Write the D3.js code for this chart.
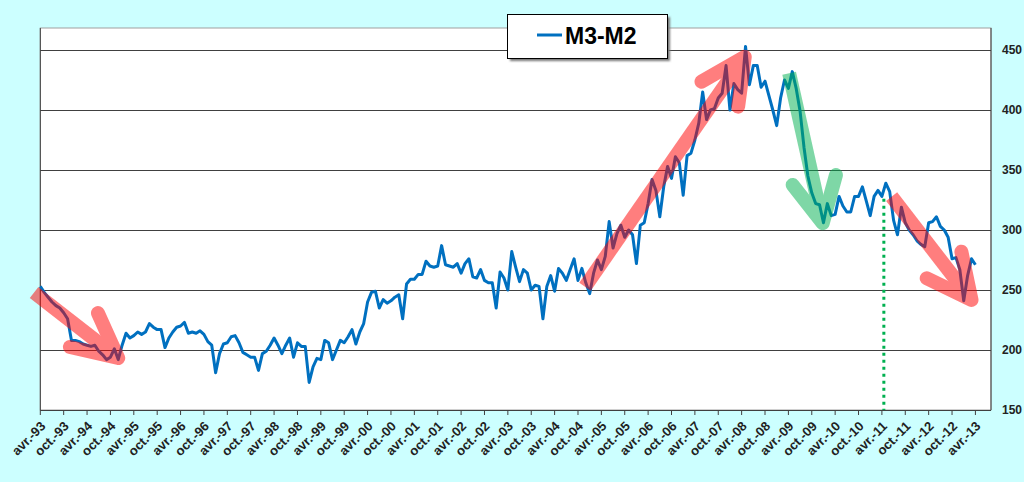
<!DOCTYPE html>
<html><head><meta charset="utf-8">
<script src="https://cdn.jsdelivr.net/npm/d3@7"></script>
<style>html,body{margin:0;padding:0;background:#CCFFFF;} svg{display:block;}</style>
</head><body>
<svg id="c" width="1024" height="482"></svg>
<script>
// ---- data ----
const seriesName = "M3-M2";
// monthly values, avr. 1993 .. avr. 2013 (index = months since avr.-93)
const values = [
253,248,244,240,237,235,231,226,208,208,
207,205,204,203,204,199,196,192,194,201,
192,204,214,210,212,215,213,215,222,219,
217,217,202,210,215,219,220,223,214,215,
214,216,213,207,204,181,197,205,206,211,
212,206,198,196,194,194,183,197,199,204,
210,204,197,204,210,194,206,203,203,173,
186,193,192,208,206,192,200,208,206,211,
217,205,215,222,240,248,249,235,242,239,
241,244,246,226,255,259,259,263,263,274,
270,269,270,287,271,270,269,272,264,272,
276,261,260,267,258,256,256,235,265,260,
250,282,269,257,267,264,250,254,253,226,
253,262,249,268,264,258,267,276,258,268,
256,247,264,275,267,278,307,285,297,304,
294,300,296,272,304,306,322,342,333,311,
336,353,343,361,356,329,362,364,375,389,
415,392,400,401,410,414,437,400,422,417,
414,453,421,437,437,419,424,412,400,387,
410,425,418,432,418,399,369,345,331,322,
321,306,322,312,313,328,320,315,315,328,
328,336,324,312,328,333,328,339,332,308,
296,319,306,300,296,291,288,286,306,307,
311,303,300,294,276,277,267,241,262,276,
271];
const tickLabels = ["avr.-93","oct.-93","avr.-94","oct.-94","avr.-95","oct.-95","avr.-96","oct.-96",
"avr.-97","oct.-97","avr.-98","oct.-98","avr.-99","oct.-99","avr.-00","oct.-00","avr.-01","oct.-01",
"avr.-02","oct.-02","avr.-03","oct.-03","avr.-04","oct.-04","avr.-05","oct.-05","avr.-06","oct.-06",
"avr.-07","oct.-07","avr.-08","oct.-08","avr.-09","oct.-09","avr.-10","oct.-10","avr.-11","oct.-11",
"avr.-12","oct.-12","avr.-13"];
const yTicks = [150,200,250,300,350,400,450];
// annotation arrows: [monthIndex, value]
const redArrows = [
  {shaft:[[-1.6,248],[20,193.3]], head:[[14.8,230.8],[20,193.3],[7.6,202.5]]},
  {shaft:[[139.8,252.8],[180.8,444.4]], head:[[169.7,423.6],[180.8,444.4],[179.1,402.8]]},
  {shaft:[[218.5,327.8],[239,241.7]], head:[[227.5,259.8],[239,241.7],[236.4,281.9]]}
];
const greenArrows = [
  {shaft:[[192.2,430.6],[200.8,305.6]], head:[[193.1,337.5],[200.8,305.6],[204.2,345.8]]}
];
const markerLine = {month:216.5, from:150, to:326};

// ---- layout ----
const L = 40.3, R = 991, T = 28, B = 410;
const svg = d3.select("#c");
const x = d3.scaleLinear().domain([0, 244]).range([L, R]);
const y = d3.scaleLinear().domain([150, 150 + (B - T) / 1.2]).range([B, T]);

svg.append("rect").attr("x",0).attr("y",0).attr("width",1024).attr("height",482).attr("fill","#CCFFFF");
svg.append("rect").attr("x",L).attr("y",T).attr("width",R-L).attr("height",B-T)
  .attr("fill","#fff").attr("stroke","#a0a0a0").attr("stroke-width",1);

// gridlines
svg.append("g").selectAll("line").data(yTicks.filter(d=>d>150)).join("line")
  .attr("x1",L).attr("x2",R).attr("y1",d=>Math.round(y(d))+0.5).attr("y2",d=>Math.round(y(d))+0.5)
  .attr("stroke","#404040").attr("stroke-width",1);

// axes lines
svg.append("line").attr("x1",L).attr("x2",L).attr("y1",T).attr("y2",B).attr("stroke","#404040");
svg.append("line").attr("x1",R).attr("x2",R).attr("y1",T).attr("y2",B).attr("stroke","#404040");
svg.append("line").attr("x1",L).attr("x2",R).attr("y1",B+0.5).attr("y2",B+0.5).attr("stroke","#404040");

// x ticks & labels
const xt = svg.append("g");
tickLabels.forEach((lab,k)=>{
  const px = x(k*6);
  xt.append("line").attr("x1",px).attr("x2",px).attr("y1",B).attr("y2",B+5).attr("stroke","#404040");
  xt.append("text").attr("transform",`translate(${px+6},${B+17}) rotate(-45)`)
    .attr("text-anchor","end").attr("font-family","Liberation Sans, Arial, sans-serif")
    .attr("font-weight","bold").attr("font-size","13px").attr("fill","#222").text(lab);
});

// y labels (right)
svg.append("g").selectAll("text").data(yTicks).join("text")
  .attr("x",1002).attr("y",d=>y(d)).attr("dy","0.35em")
  .attr("font-family","Liberation Sans, Arial, sans-serif").attr("font-weight","bold")
  .attr("font-size","12px").attr("fill","#222").text(d=>d);

// series line
const line = d3.line().x((d,i)=>x(i)).y(d=>y(d));
svg.append("path").datum(values).attr("d",line).attr("fill","none")
  .attr("stroke","#0070C0").attr("stroke-width",3).attr("stroke-linejoin","round");

// marker dotted line
svg.append("line").attr("x1",x(markerLine.month)).attr("x2",x(markerLine.month))
  .attr("y1",y(markerLine.to)).attr("y2",y(markerLine.from))
  .attr("stroke","#00B050").attr("stroke-width",3).attr("stroke-dasharray","3,4");

// arrows
const pl = d3.line().x(d=>x(d[0])).y(d=>y(d[1]));
function drawArrows(list,color){
  list.forEach(a=>{
    const g = svg.append("g").attr("opacity",0.5);
    g.append("path").attr("d",pl(a.shaft)).attr("fill","none").attr("stroke",color)
      .attr("stroke-width",14).attr("stroke-linecap","butt");
    g.append("path").attr("d",pl(a.head)).attr("fill","none").attr("stroke",color)
      .attr("stroke-width",14).attr("stroke-linecap","round").attr("stroke-linejoin","round");
  });
}
drawArrows(redArrows,"#FF0000");
drawArrows(greenArrows,"#00B050");

// legend
const defs = svg.append("defs");
defs.append("filter").attr("id","sh").append("feGaussianBlur").attr("stdDeviation",1.2);
svg.append("rect").attr("x",510).attr("y",17).attr("width",160).attr("height",44)
  .attr("fill","#777").attr("filter","url(#sh)");
svg.append("rect").attr("x",507.5).attr("y",14.5).attr("width",160).attr("height",44)
  .attr("fill","#fff").attr("stroke","#000").attr("stroke-width",1);
svg.append("line").attr("x1",537).attr("x2",562).attr("y1",35).attr("y2",35)
  .attr("stroke","#0070C0").attr("stroke-width",3);
svg.append("text").attr("x",565).attr("y",43.5).attr("font-family","Liberation Sans, Arial, sans-serif")
  .attr("font-weight","bold").attr("font-size","23px").attr("fill","#000").text(seriesName);
</script>
</body></html>
